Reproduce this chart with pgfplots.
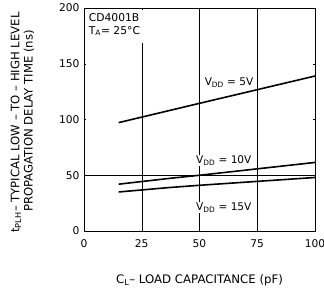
\documentclass[border=0pt]{standalone}
\usepackage{pgfplots}
\pgfplotsset{compat=1.18}
\usepackage{fontspec}
\setmainfont{DejaVu Sans}
\begin{document}
\begin{tikzpicture}
\begin{axis}[
  name=ax,
  at={(0,0)}, anchor=south west,
  scale only axis,
  width=231bp, height=223bp,
  xmin=0, xmax=100, ymin=0, ymax=200,
  xtick={0,25,50,75,100},
  ytick={0,50,100,150,200},
  tick align=inside,
  major tick length=2pt,
  axis line style={line width=0.9pt},
  tick style={line width=0.5pt, black},
  /pgf/number format/assume math mode=true,
  ticklabel style={font=\fontsize{10.7}{12}\selectfont},
  xticklabel style={yshift=-5pt},
  yticklabel style={xshift=-1pt},
  clip=false,
]
\draw[line width=0.5pt] (axis cs:25,0) -- (axis cs:25,169);
\draw[line width=0.5pt] (axis cs:50,0) -- (axis cs:50,200);
\draw[line width=0.5pt] (axis cs:75,0) -- (axis cs:75,200);
\draw[line width=0.5pt] (axis cs:0,50) -- (axis cs:100,50);
\addplot[black, line width=1.6pt] coordinates {(15,97.2) (50,114.5) (100,139)};
\addplot[black, line width=1.6pt] coordinates {(15,42) (37,47.2) (50,50) (100,61.5)};
\addplot[black, line width=1.6pt] coordinates {(15,35) (37,39) (50,41) (100,48)};
\node[anchor=north west, align=left, font=\fontsize{10.8}{13}\selectfont, inner sep=0pt] at (axis cs:2,195.5) {CD4001B\\[0pt]T$_{\mathrm{A}}$= 25\textdegree C};
\node[font=\fontsize{10.6}{12}\selectfont, fill=white, inner sep=1pt] at (axis cs:62.8,133) {V$_{\mathrm{DD}}$ = 5V};
\node[font=\fontsize{10.6}{12}\selectfont, fill=white, inner sep=1pt] at (axis cs:60.5,63) {V$_{\mathrm{DD}}$ = 10V};
\node[font=\fontsize{10.6}{12}\selectfont, fill=white, inner sep=1pt] at (axis cs:60.5,21) {V$_{\mathrm{DD}}$ = 15V};
\end{axis}
\node[rotate=90, font=\fontsize{11.7}{12}\selectfont] at ([xshift=-68bp,yshift=-3bp]ax.west) {t$_{\mathrm{PLH}}$-- TYPICAL LOW -- TO -- HIGH LEVEL};
\node[rotate=90, font=\fontsize{11.7}{12}\selectfont] at ([xshift=-55bp,yshift=-1.5bp]ax.west) {PROPAGATION DELAY TIME (ns)};
\node[font=\fontsize{11.8}{12}\selectfont] at ([yshift=-49bp]ax.south) {C$_{\mathrm{L}}$-- LOAD CAPACITANCE (pF)};
\pgfresetboundingbox
\useasboundingbox ([xshift=-84bp,yshift=-58bp]ax.south west) rectangle ([xshift=9bp,yshift=8bp]ax.north east);
\end{tikzpicture}
\end{document}
